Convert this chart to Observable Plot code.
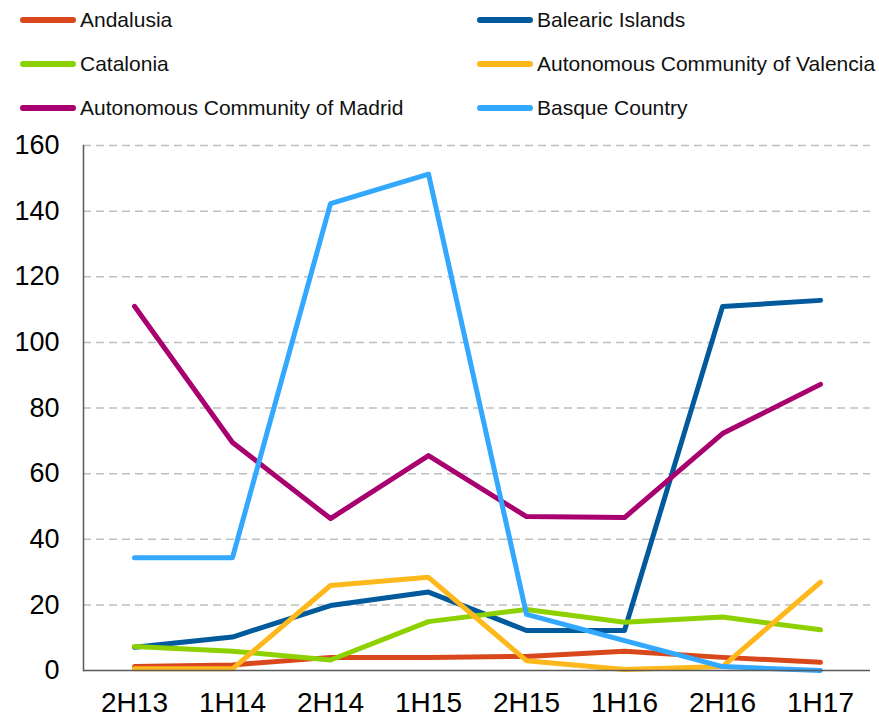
<!DOCTYPE html>
<html>
<head>
<meta charset="utf-8">
<script src="https://cdn.jsdelivr.net/npm/d3@7"></script>
<script src="https://cdn.jsdelivr.net/npm/@observablehq/plot@0.6"></script>
<style>
  html, body { margin: 0; padding: 0; background: #fff; }
  body { width: 879px; height: 722px; overflow: hidden; font-family: Arial, "Liberation Sans", sans-serif; }
  #legend { position: relative; height: 130px; }
  .item { position: absolute; display: flex; align-items: center; font-size: 21px; color: #111; height: 30px; white-space: nowrap; }
  .sw { width: 56px; height: 6px; border-radius: 3px; margin-right: 4px; }
  #chart svg { display: block; }
</style>
</head>
<body>
<div id="legend"></div>
<div id="chart"></div>
<script>
const periods = ["2H13", "1H14", "2H14", "1H15", "2H15", "1H16", "2H16", "1H17"];
const seriesNames = ["Andalusia", "Balearic Islands", "Catalonia", "Autonomous Community of Valencia", "Autonomous Community of Madrid", "Basque Country"];
const colors = ["#D9481C", "#005A9C", "#8ED100", "#FFB81C", "#A8006E", "#33A8FF"];

const andalusia = [1.2, 1.7, 4.0, 4.0, 4.3, 5.9, 4.0, 2.5];
const balearic  = [7.1, 10.2, 19.8, 23.9, 12.2, 12.2, 110.9, 112.8];
const catalonia = [7.3, 5.9, 3.2, 14.9, 18.6, 14.7, 16.3, 12.4];
const valencia  = [0.5, 0.5, 25.9, 28.4, 3.0, 0.3, 1.2, 26.9];
const madrid    = [111.0, 69.5, 46.3, 65.5, 46.9, 46.6, 72.2, 87.2];
const basque    = [34.4, 34.4, 142.3, 151.3, 17.1, 9.1, 1.2, 0.0];
const yTicks = [0, 20, 40, 60, 80, 100, 120, 140, 160];

const seriesValues = [andalusia, balearic, catalonia, valencia, madrid, basque];
const data = [];
seriesNames.forEach((name, i) => {
  periods.forEach((p, j) => data.push({series: name, period: p, value: seriesValues[i][j]}));
});

// Legend
const legend = document.getElementById("legend");
const legendPos = [[20, 20], [477, 20], [20, 64], [477, 64], [20, 108], [477, 108]];
seriesNames.forEach((name, k) => {
  const it = document.createElement("div");
  it.className = "item";
  it.style.left = legendPos[k][0] + "px";
  it.style.top = (legendPos[k][1] - 15) + "px";
  const sw = document.createElement("span");
  sw.className = "sw";
  sw.style.background = colors[k];
  const tx = document.createElement("span");
  tx.textContent = name;
  it.appendChild(sw); it.appendChild(tx);
  legend.appendChild(it);
});

const chart = Plot.plot({
  width: 879,
  height: 592,
  marginLeft: 83,
  marginRight: 9,
  marginTop: 15,
  marginBottom: 52,
  style: {fontFamily: "Arial, 'Liberation Sans', sans-serif", fontSize: "27px", color: "#000", background: "#fff"},
  x: {type: "point", domain: periods, padding: 0.5, label: null},
  y: {domain: [0, 160], ticks: yTicks, label: null},
  color: {domain: seriesNames, range: colors},
  marks: [
    Plot.ruleY(yTicks.filter(d => d > 0), {stroke: "#bfbfbf", strokeWidth: 1.5, strokeDasharray: "8,5"}),
    Plot.axisY({ticks: yTicks, tickSize: 0, tickPadding: 24, fontSize: 27, label: null}),
    Plot.axisX({tickSize: 0, tickPadding: 22, fontSize: 28, label: null}),
    Plot.line(data, {x: "period", y: "value", z: "series", stroke: "series", strokeWidth: 5, strokeLinejoin: "round", strokeLinecap: "round"}),
    Plot.ruleY([0], {stroke: "#595959", strokeWidth: 1.5}),
    Plot.frame({anchor: "left", stroke: "#595959", strokeWidth: 1.5})
  ]
});
document.getElementById("chart").appendChild(chart);
</script>
</body>
</html>
